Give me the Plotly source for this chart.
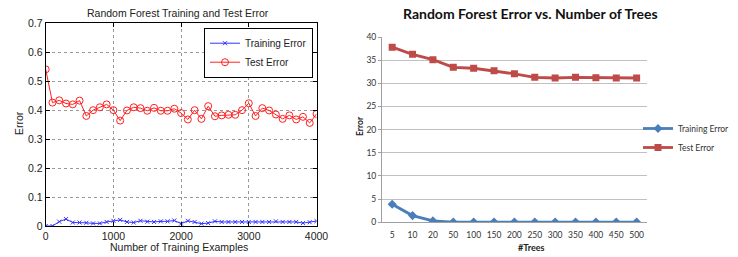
import plotly.graph_objects as go

# ---- Left chart data ----
train_examples = list(range(0, 4001, 100))
left_train_error = [0.0, 0.0, 0.015, 0.024, 0.012, 0.012, 0.011, 0.009, 0.009, 0.014,
                    0.018, 0.021, 0.014, 0.012, 0.018, 0.015, 0.014, 0.016, 0.016, 0.019,
                    0.008, 0.018, 0.014, 0.008, 0.010, 0.016, 0.014, 0.014, 0.014, 0.014,
                    0.014, 0.014, 0.014, 0.014, 0.016, 0.014, 0.014, 0.014, 0.010, 0.013,
                    0.017]
left_test_error = [0.541, 0.426, 0.434, 0.423, 0.420, 0.433, 0.380, 0.400, 0.410, 0.420,
                   0.400, 0.364, 0.399, 0.410, 0.407, 0.398, 0.408, 0.398, 0.398, 0.405,
                   0.390, 0.368, 0.400, 0.370, 0.414, 0.379, 0.382, 0.384, 0.384, 0.400,
                   0.424, 0.380, 0.407, 0.399, 0.385, 0.370, 0.382, 0.368, 0.377, 0.356,
                   0.387]

# ---- Right chart data ----
trees = ["5", "10", "20", "50", "100", "150", "200", "250", "300", "350", "400", "450", "500"]
right_train_error = [3.9, 1.45, 0.3, 0.05, 0.05, 0.05, 0.05, 0.05, 0.05, 0.05, 0.05, 0.05, 0.05]
right_test_error = [37.8, 36.25, 35.1, 33.45, 33.25, 32.7, 32.05, 31.3, 31.15, 31.3, 31.2, 31.15, 31.15]

W, H = 738, 257
def px(x):
    return x / W
def py(y):
    return 1 - y / H

fig = go.Figure()

LF = "Liberation Sans, Arial, sans-serif"
RF = "Lato, Open Sans, sans-serif"

fig.add_trace(go.Scatter(x=train_examples, y=left_train_error, mode="lines+markers",
                         name="Training Error", xaxis="x", yaxis="y",
                         line=dict(color="#3333ff", width=1),
                         marker=dict(symbol="x-thin-open", size=4, color="#3333ff",
                                     line=dict(width=1, color="#3333ff")),
                         legend="legend"))
fig.add_trace(go.Scatter(x=train_examples, y=left_test_error, mode="lines+markers",
                         name="Test Error", xaxis="x", yaxis="y",
                         line=dict(color="#ff2020", width=1),
                         marker=dict(symbol="circle-open", size=7, color="#ff2020",
                                     line=dict(width=1)),
                         legend="legend"))

fig.add_trace(go.Scatter(x=trees, y=right_train_error, mode="lines+markers",
                         name="Training Error", xaxis="x2", yaxis="y2",
                         line=dict(color="#4a7ebb", width=2.8),
                         marker=dict(symbol="diamond", size=7, color="#4a7ebb"),
                         legend="legend2"))
fig.add_trace(go.Scatter(x=trees, y=right_test_error, mode="lines+markers",
                         name="Test Error", xaxis="x2", yaxis="y2",
                         line=dict(color="#be4b48", width=2.8),
                         marker=dict(symbol="square", size=7, color="#be4b48"),
                         legend="legend2"))

def ann(text, x, y, font, angle=0):
    return dict(text=text, x=px(x), y=py(y), xref="paper", yref="paper",
                showarrow=False, xanchor="center", yanchor="middle",
                textangle=angle, font=font)

lfont = dict(family=LF, size=10.5, color="#222")

fig.update_layout(
    width=W, height=H, margin=dict(l=0, r=0, t=0, b=0, autoexpand=False),
    paper_bgcolor="white", plot_bgcolor="white", showlegend=True,
    xaxis=dict(domain=[px(45.7), px(316.5)], range=[0, 4000], dtick=1000,
               showgrid=True, gridcolor="#999999", griddash="dot", gridwidth=1,
               showline=True, linecolor="black", linewidth=1, mirror="ticks",
               ticks="inside", ticklen=4, tickcolor="black", zeroline=False,
               automargin=False, tickfont=lfont, anchor="y"),
    yaxis=dict(domain=[py(226), py(23.3)], range=[0, 0.7], dtick=0.1,
               showgrid=True, gridcolor="#999999", griddash="dot", gridwidth=1,
               showline=True, linecolor="black", linewidth=1, mirror="ticks",
               ticks="inside", ticklen=4, tickcolor="black", zeroline=False,
               automargin=False, tickfont=lfont, anchor="x"),
    xaxis2=dict(domain=[px(382), px(646.8)], type="category", range=[-0.5, 12.5],
                showgrid=False, showline=True, linecolor="#a0a0a0", linewidth=1,
                ticks="", zeroline=False, automargin=False, ticklabelstandoff=4,
                tickfont=dict(family=RF, size=8.5, color="#333"), anchor="y2"),
    yaxis2=dict(domain=[py(222.3), py(37)], range=[0, 40], dtick=5,
                showgrid=True, gridcolor="#c0c0c0", gridwidth=1,
                showline=True, linecolor="#a0a0a0", linewidth=1, ticks="outside",
                ticklen=3, tickcolor="#a0a0a0", zeroline=False, automargin=False,
                tickfont=dict(family=RF, size=8.5, color="#333"), anchor="x2"),
    legend=dict(x=px(313), y=py(27.7), xanchor="right", yanchor="top",
                bgcolor="white", bordercolor="black", borderwidth=1,
                font=dict(family=LF, size=10, color="#222"),
                tracegroupgap=0, itemwidth=30),
    legend2=dict(x=px(638), y=py(114), xanchor="left", yanchor="top",
                 bgcolor="rgba(0,0,0,0)", borderwidth=0,
                 font=dict(family=RF, size=8.5, color="#333"),
                 tracegroupgap=0, itemwidth=30),
    annotations=[
        ann("Random Forest Training and Test Error", 178, 13, lfont),
        ann("Number of Training Examples", 178.5, 247, lfont),
        ann("Error", 19, 123, lfont, -90),
        ann("<b>Random Forest Error vs. Number of Trees</b>", 530, 13,
            dict(family=RF, size=14, color="#111")),
        ann("<b>#Trees</b>", 531.5, 247.5, dict(family=RF, size=9, color="#222")),
        ann("<b>Error</b>", 360, 126, dict(family=RF, size=8.5, color="#222"), -90),
    ],
)

fig.write_html("out.html", config={"displayModeBar": False},
               post_script="document.body.style.margin='0';document.body.style.padding='0';")
